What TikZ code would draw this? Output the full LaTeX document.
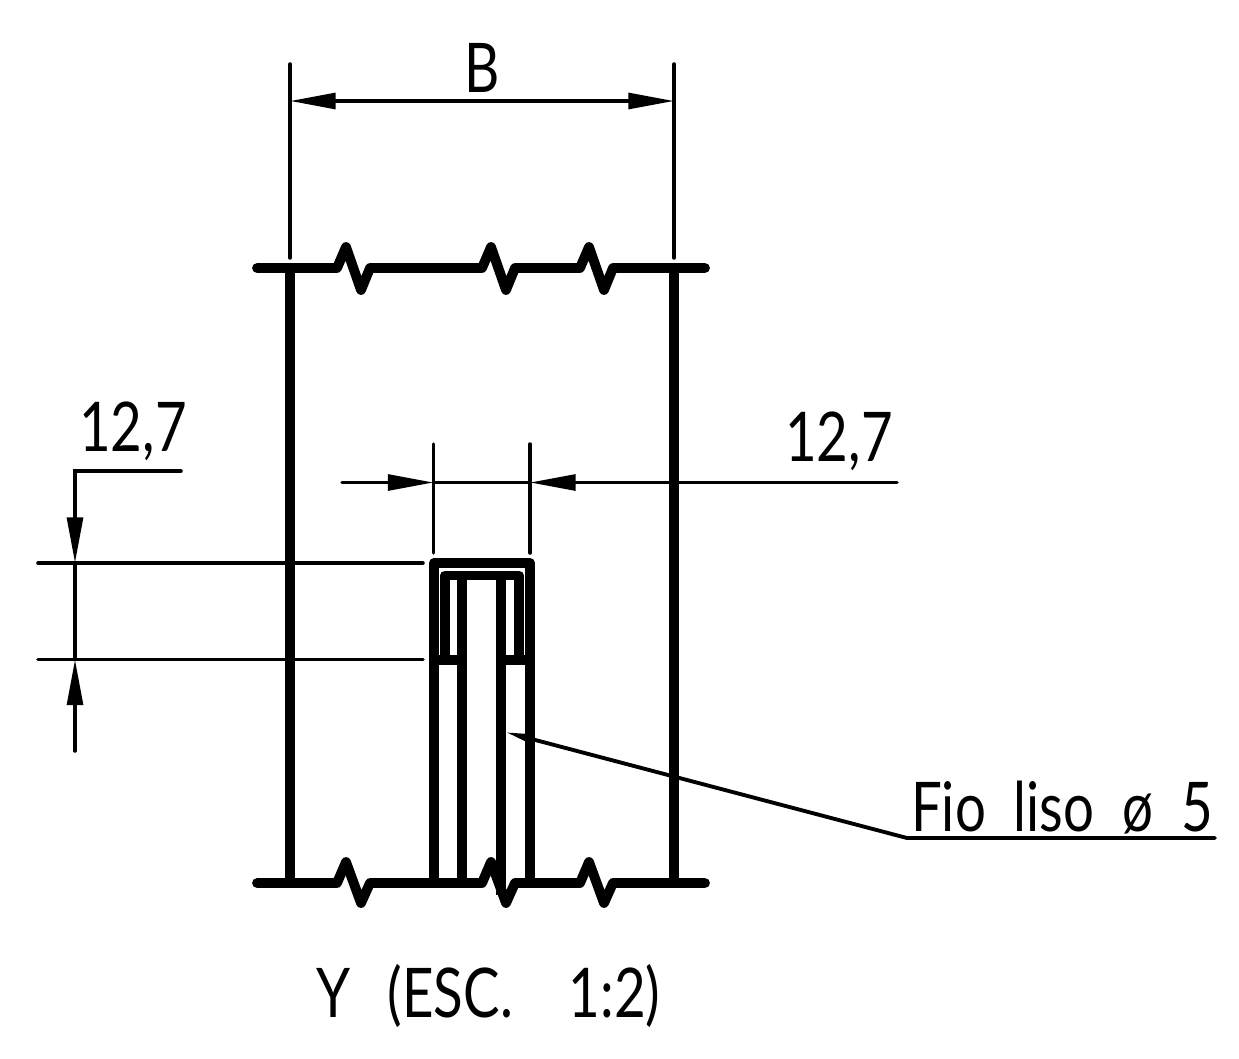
\documentclass[tikz,border=0pt]{standalone}
\usepackage{fontspec}
\newfontfamily\cadfont{Lato}
\usetikzlibrary{arrows.meta}

\begin{document}
\begin{tikzpicture}[x=0.02cm, y=-0.02cm,
  heavy line/.style={line width=5.6pt, line cap=round, line join=round},
  thin line/.style={line width=2pt, line cap=round, line join=miter},
  cad text/.style={font=\fontsize{39}{39}\cadfont, inner sep=0pt, xscale=0.797, transform shape}]
\useasboundingbox (0,0) rectangle (1239,1058);

% top and bottom break lines
\draw[heavy line] (257,268) -- (337,268) -- (346,247) -- (361,290) -- (370,268) -- (482,268) -- (491,247) -- (506,290) -- (515,268) -- (580,268) -- (589,247) -- (604,290) -- (613,268) -- (705,268);
\draw[heavy line] (257,883) -- (337,883) -- (346,862) -- (361,903) -- (370,883) -- (482,883) -- (491,862) -- (506,903) -- (515,883) -- (580,883) -- (589,862) -- (604,903) -- (613,883) -- (705,883);

% side walls
\draw[heavy line, line cap=butt] (290,268) -- (290,883);
\draw[heavy line, line cap=butt] (674,268) -- (674,883);

% outer stirrup
\draw[heavy line, line cap=butt] (434,883) -- (434,563) -- (530,563) -- (530,883);

% inner stirrup
\draw[heavy line, line cap=butt] (445,660) -- (445,575.5) -- (519,575.5) -- (519,660);
\draw[heavy line, line cap=butt] (462,575.5) -- (462,883);
\draw[heavy line, line cap=butt] (501,575.5) -- (501,895);

% ties
\draw[heavy line, line cap=butt] (434,660) -- (462,660);
\draw[heavy line, line cap=butt] (501,660) -- (530,660);

% dimension B
\coordinate (b1) at (290,101);
\coordinate (b2) at (674,101);
\node[cad text] (blabel) at (482,67.5) {B};
\draw[thin line] (290,64) -- (290,258);
\draw[thin line] (674,64) -- (674,258);
\draw[thin line, {Triangle[length=26pt, width=9pt]}-{Triangle[length=26pt, width=9pt]}] (b1) -- (b2);

% dimension 12,7 across
\coordinate (h0) at (342,482.5);
\coordinate (h1) at (433.5,482.5);
\coordinate (h2) at (530,482.5);
\coordinate (h3) at (897,482.5);
\node[cad text] (hlabel) at (839,441) {12,7};
\draw[thin line] (433.5,444) -- (433.5,553);
\draw[thin line] (530,444) -- (530,553);
\draw[thin line, -{Triangle[length=26pt, width=9pt]}] (h0) -- (h1);
\draw[thin line, -{Triangle[length=26pt, width=9pt]}] (h3) -- (h2);
\draw[thin line] (h1) -- (h2);

% dimension 12,7 down
\coordinate (v0) at (181,471);
\coordinate (v1) at (75,471);
\coordinate (v2) at (75,563);
\coordinate (v3) at (75,659.5);
\coordinate (v4) at (75,751);
\node[cad text] (vlabel) at (133,431) {12,7};
\draw[thin line] (38,563) -- (423,563);
\draw[thin line] (38,659.5) -- (423,659.5);
\draw[thin line, -{Triangle[length=26pt, width=9pt]}] (v0) -- (v1) -- (v2);
\draw[thin line, -{Triangle[length=26pt, width=9pt]}] (v4) -- (v3);
\draw[thin line] (v2) -- (v3);

% wire callout
\coordinate (w0) at (505,732);
\coordinate (w1) at (907,838);
\coordinate (w2) at (1215,838);
\node[cad text] (wlabel) at (1062,808) {Fio\ \ liso\ \ ø\ \ 5};
\draw[thin line, line width=2.2pt, {Triangle[length=16pt, width=5pt]}-] (w0) -- (w1) -- (w2);

% title
\node[cad text] (title) at (488.5,996) {Y\ \ \,(ESC.\ \ \ \ 1:2)};
\end{tikzpicture}
\end{document}
